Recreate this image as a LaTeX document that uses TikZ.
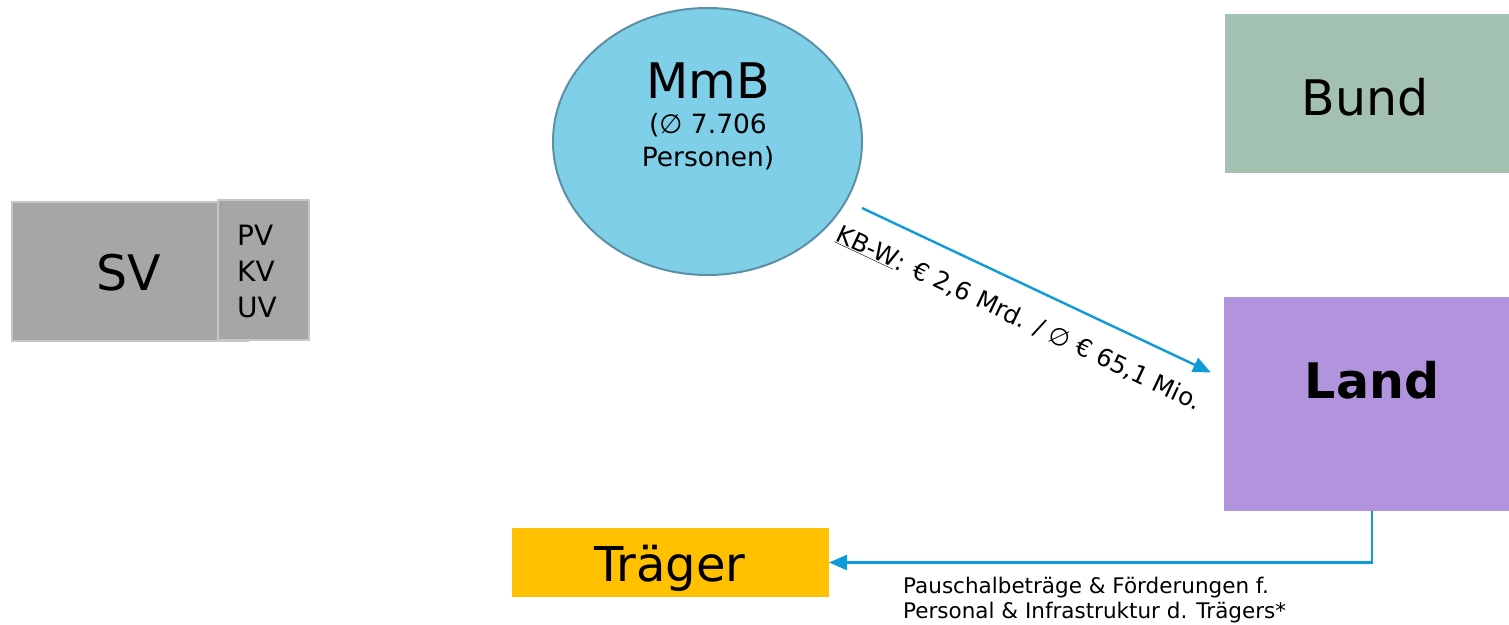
\documentclass[tikz,border=0pt]{standalone}
\usepackage{fontspec}
\setmainfont{DejaVu Sans}
\usetikzlibrary{shapes.geometric,arrows.meta}
\definecolor{svgray}{HTML}{A6A6A6}
\definecolor{svborder}{HTML}{C6C6C6}
\definecolor{mmbfill}{HTML}{7FCFE8}
\definecolor{mmbborder}{HTML}{5B90A6}
\definecolor{bundfill}{HTML}{A3C1B0}
\definecolor{landfill}{HTML}{B294DE}
\definecolor{traegerfill}{HTML}{FFC000}
\definecolor{arrowblue}{HTML}{0E9BD7}
\begin{document}
\begin{tikzpicture}[x=1pt,y=-1pt,
  box/.style={inner sep=0pt, outer sep=0pt},
  bigtext/.style={inner sep=0pt, anchor=base, font=\fontsize{49}{49}\selectfont},
  flow/.style={draw=arrowblue, line width=2.4pt, -{Triangle[length=18pt,width=15pt]}},
]
\useasboundingbox (0,0) rectangle (1509,624);
% SV
\node[box, fill=svgray, draw=svborder, line width=2pt, minimum width=236pt, minimum height=139pt] (sv) at (130,271.5) {};
\node[box, fill=svgray, draw=svborder, line width=2pt, minimum width=91pt, minimum height=140pt] (pv) at (263.5,270) {};
\node[bigtext] (svt) at (129,290) {SV};
\node[inner sep=0pt, anchor=base west, align=left, font=\fontsize{28}{36}\selectfont] (pvt) at (237,317) {PV\\KV\\UV};
% MmB
\node[ellipse, draw=mmbborder, fill=mmbfill, line width=2pt, minimum width=309pt, minimum height=267pt, inner sep=0pt] (mmb) at (707.5,141.5) {};
\node[bigtext] (mmbt) at (708,98) {MmB};
\node[inner sep=0pt, anchor=base, font=\fontsize{26.5}{33}\selectfont] (mmbs1) at (708,133) {(∅ 7.706};
\node[inner sep=0pt, anchor=base, font=\fontsize{26.5}{33}\selectfont] (mmbs2) at (708,166) {Personen)};
% Bund
\node[box, fill=bundfill, minimum width=284pt, minimum height=159pt] (bund) at (1367,93.5) {};
\node[bigtext] (bundt) at (1365,115) {Bund};
% Land
\node[box, fill=landfill, minimum width=285pt, minimum height=214pt] (land) at (1366.5,404) {};
\node[bigtext, font=\fontsize{49}{49}\selectfont\bfseries] (landt) at (1372,398) {Land};
% Traeger
\node[box, fill=traegerfill, minimum width=317pt, minimum height=69pt] (traeger) at (670.5,562.5) {};
\node[bigtext, font=\fontsize{48}{48}\selectfont] (traegert) at (670,581) {Träger};
% arrows
\coordinate (a1s) at (862,208);
\coordinate (a1e) at (1211,372.5);
\draw[flow] (a1s) -- (a1e)
  node[sloped, pos=0.49, below=21pt, inner sep=0pt, font=\fontsize{24.5}{24.5}\selectfont] (kbw) {\underline{KB-W}: € 2,6 Mrd. / ∅ € 65,1 Mio.};
\coordinate (a2s) at (1372,511);
\draw[flow] (a2s) |- (traeger.east);
\node[inner sep=0pt, anchor=base west, align=left, font=\fontsize{21.5}{25}\selectfont] (pausch) at (903,618) {Pauschalbeträge \& Förderungen f.\\Personal \& Infrastruktur d. Trägers*};
\end{tikzpicture}
\end{document}
